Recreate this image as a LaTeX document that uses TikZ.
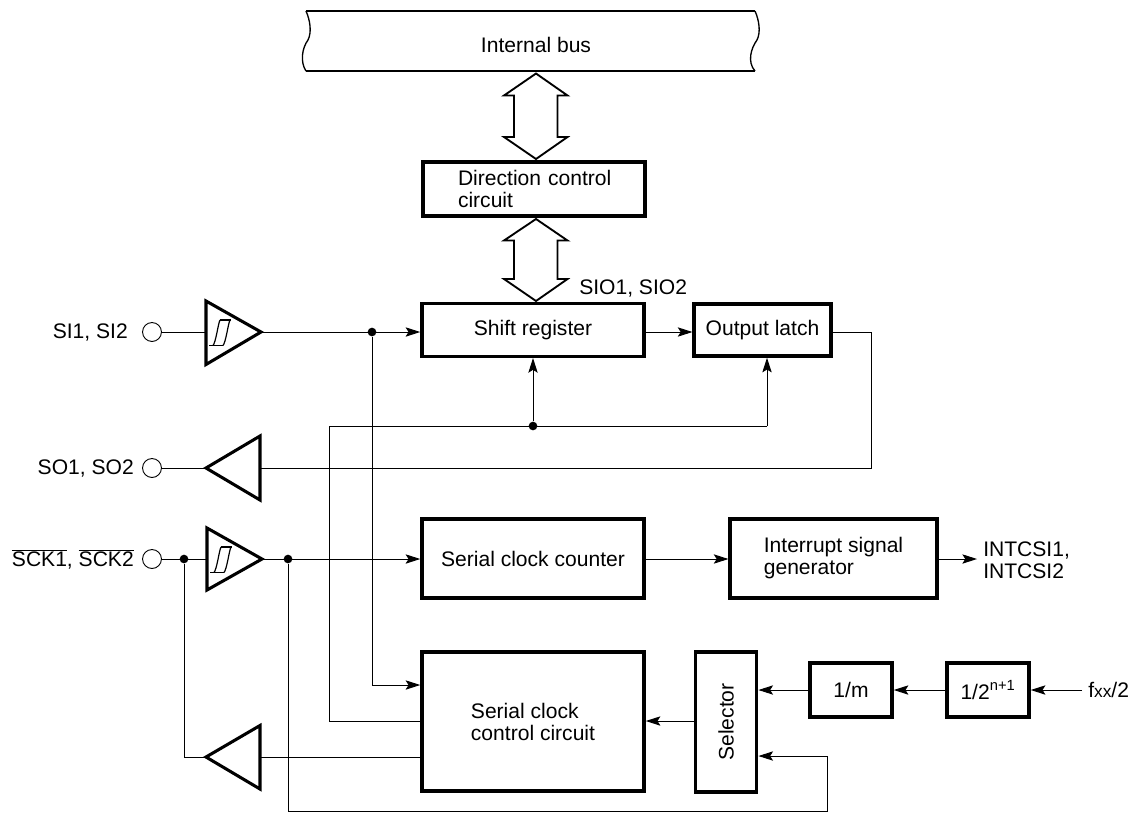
\documentclass[tikz,border=0pt]{standalone}
\usepackage{fontspec}
\setmainfont{Liberation Sans}
\usetikzlibrary{arrows.meta}
\tikzset{
  block/.style={draw,line width=2.6bp,minimum width=0pt},
  wire/.style={line width=0.72bp},
  arr/.style={wire,-{Stealth[length=11bp,width=7bp,inset=2.2bp]}},
  buf/.style={draw,line width=2.3bp,miter limit=10},
  pad/.style={circle,draw,line width=0.7bp,minimum size=14.2bp,inner sep=0pt},
  junction/.style={circle,fill=black,minimum size=6.5bp,inner sep=0pt},
  lbl/.style={inner sep=0pt,font=\fontsize{15.8bp}{16.5bp}\selectfont},
  blocktext/.style={lbl,align=left}
}
\newcommand{\ovl}[1]{$\overline{\mbox{#1}}$}
\begin{document}
\begin{tikzpicture}[x=0.75bp,y=-0.75bp]
\useasboundingbox (0,0) rectangle (1132,813);
% internal bus
\draw[line width=1.5bp] (306,11) -- (755,11) (306,71) -- (755,71);
\draw[line width=1bp] (306,11) .. controls (310,20) and (312,32) .. (308,40) .. controls (302,48) and (300,62) .. (306,71);
\draw[line width=1bp] (755,11) .. controls (759,20) and (761,32) .. (757,40) .. controls (751,48) and (747,62) .. (755,71);
\node[lbl] (busl) at (536,45) {Internal bus};
% blocks
\node[block,blocktext,minimum width=166.5bp,minimum height=40.5bp,text width=160bp,inner xsep=0pt] (dir) at (534,189) {\hspace*{23bp}\mbox{Direction control}\\\hspace*{23bp}circuit};
\node[block,lbl,draw,minimum width=166.5bp,minimum height=39.5bp] (shift) at (533,330) {Shift register};
\node[block,lbl,draw,minimum width=102.5bp,minimum height=39bp] (latch) at (762.5,330) {Output latch};
\node[block,lbl,draw,minimum width=166.5bp,minimum height=59bp] (counter) at (533,558.5) {Serial clock counter};
\node[block,blocktext,draw,minimum width=155bp,minimum height=59bp,inner xsep=0pt] (intr) at (833.5,558.5) {\mbox{Interrupt signal}\\generator};
\node[block,blocktext,draw,minimum width=166.5bp,minimum height=104bp,inner xsep=0pt] (ctrl) at (533,721.5) {\mbox{Serial clock}\\control circuit};
\node[block,lbl,draw,minimum width=46bp,minimum height=105bp,inner sep=0pt] (sel) at (726,722) {\rotatebox{90}{Selector}};
\node[block,lbl,draw,minimum width=61.5bp,minimum height=40.5bp,inner sep=0pt] (m) at (851,690) {1/m};
\node[block,lbl,draw,minimum width=61.5bp,minimum height=40.5bp,inner sep=0pt] (div) at (988,690) {1/2\textsuperscript{n+1}};
% bus arrows
\draw[line width=1.4bp,fill=white] (536,73.5) -- (567.5,95.5) -- (557.5,95.5) -- (557.5,137) -- (567.5,137) -- (536,159) -- (504,137) -- (514,137) -- (514,95.5) -- (504,95.5) -- cycle;
\draw[line width=1.4bp,fill=white] (536,219) -- (567.5,240.5) -- (557.5,240.5) -- (557.5,279) -- (567.5,279) -- (536,301) -- (504,279) -- (514,279) -- (514,240.5) -- (504,240.5) -- cycle;
% pads and labels
\node[pad] (p1) at (152,332) {};
\node[pad] (p2) at (152,468) {};
\node[pad] (p3) at (152,559) {};
\node[lbl,anchor=east] (l1) at (128,332) {SI1, SI2};
\node[lbl,anchor=east] (l2) at (134,468) {SO1, SO2};
\node[lbl,anchor=east] (l3) at (134,559) {\ovl{SCK1}, \ovl{SCK2}};
\node[lbl,anchor=west] (sio) at (579,288) {SIO1, SIO2};
\node[lbl,align=left,anchor=west] (intl) at (983,560) {INTCSI1,\\INTCSI2};
\coordinate (intend) at (977,559);
\node[lbl,anchor=west] (fxx) at (1088,690) {f{\fontsize{13bp}{14bp}\selectfont xx}/2};
% buffers
\coordinate (b1i) at (206,332); \coordinate (b1o) at (261,332);
\coordinate (b2o) at (206,468); \coordinate (b2i) at (260,468);
\coordinate (b3i) at (207,559); \coordinate (b3o) at (262,559);
\coordinate (b4o) at (206,757); \coordinate (b4i) at (260,757);
\draw[buf] (206,301) -- (261,332) -- (206,364.5) -- cycle;
\draw[buf] (207,528) -- (262,559) -- (207,590) -- cycle;
\draw[buf] (260,436) -- (206,468) -- (260,500) -- cycle;
\draw[buf] (260,725.5) -- (206,757) -- (260,789) -- cycle;
% hysteresis
\foreach \x/\y in {0/332,1/559}{
  \draw[line width=0.9bp] (209+\x,\y+13.5) -- (223+\x,\y+13.5) (220+\x,\y-12) -- (231+\x,\y-12);
  \draw[line width=0.9bp] (213+\x,\y+13.5) .. controls (216+\x,\y+10) and (218+\x,\y-8) .. (220+\x,\y-12);
  \draw[line width=0.9bp] (223+\x,\y+13.5) .. controls (226+\x,\y+10) and (228+\x,\y-8) .. (230+\x,\y-12);
}
% junctions
\node[junction] (j1) at (372,332) {};
\node[junction] (j2) at (533,426) {};
\node[junction] (j3) at (184,559) {};
\node[junction] (j4) at (288,559) {};
% wires
\draw[wire] (p1) -- (b1i);
\draw[arr] (b1o) -- (shift.west |- b1o);
\draw[arr] (j1) |- (ctrl.west |- 0,685);
\draw[arr] (shift.east |- 0,332) -- (latch.west |- 0,332);
\draw[wire] (latch.east |- 0,332) -- (871,332) -- (871,468) -- (b2i);
\draw[wire] (p2) -- (b2o);
\draw[wire] (ctrl.west |- 0,721) -| (329,426) -- (767,426);
\draw[arr] (767,426) -- (latch.south -| 767,0);
\draw[arr] (j2) -- (shift.south -| j2);
\draw[wire] (p3) -- (b3i);
\draw[arr] (b3o) -- (counter.west |- b3o);
\draw[arr] (counter.east |- 0,559) -- (intr.west |- 0,559);
\draw[arr] (intr.east |- 0,559) -- (intend);
\draw[wire] (j3) |- (b4o);
\draw[wire] (b4i) -- (ctrl.west |- b4i);
\draw[arr] (sel.west |- 0,721) -- (ctrl.east |- 0,721);
\draw[arr] (m.west) -- (sel.east |- m.west);
\draw[arr] (div.west) -- (m.east);
\draw[arr] (fxx.west) ++(-6,0) -- (div.east);
\draw[arr] (j4) -- (288,811.5) -- (827,811.5) -- (827,756) -- (sel.east |- 0,756);
\end{tikzpicture}
\end{document}
